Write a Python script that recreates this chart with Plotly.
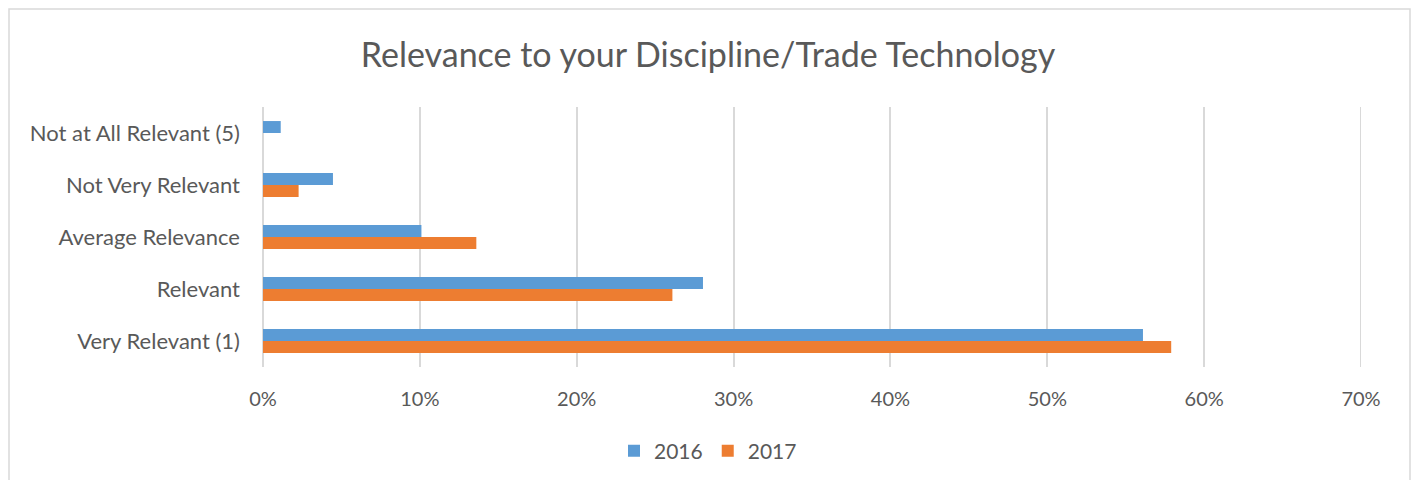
import plotly.graph_objects as go

categories = ["Not at All Relevant (5)", "Not Very Relevant", "Average Relevance", "Relevant", "Very Relevant (1)"]
values_2016 = [0.0113, 0.0446, 0.101, 0.2805, 0.561]
values_2017 = [0.0, 0.0227, 0.136, 0.261, 0.579]
x_ticks = [0, 0.1, 0.2, 0.3, 0.4, 0.5, 0.6, 0.7]
x_tick_labels = ["0%", "10%", "20%", "30%", "40%", "50%", "60%", "70%"]

W, H = 1416, 480
L, R, T, B = 263, 1361, 107, 367
FONT = "Lato"

fig = go.Figure()
fig.add_trace(go.Bar(y=categories, x=values_2016, name="2016", orientation="h",
                     marker=dict(color="#5B9BD5", line=dict(width=0))))
fig.add_trace(go.Bar(y=categories, x=values_2017, name="2017", orientation="h",
                     marker=dict(color="#ED7D31", line=dict(width=0))))

pw, ph = R - L, B - T
def px(x): return (x - L) / pw
def py(y): return (B - y) / ph

fig.update_layout(
    width=W, height=H,
    margin=dict(l=L, r=W - R, t=T, b=H - B),
    paper_bgcolor="white", plot_bgcolor="white",
    barmode="group", bargap=0.54, bargroupgap=0,
    font=dict(family=FONT, color="#595959"),
    title=dict(text="Relevance to your Discipline/Trade Technology",
               x=0.5, xref="container", xanchor="center",
               y=1 - 55 / H, yref="container", yanchor="middle",
               font=dict(size=34, color="#595959", family=FONT)),
    xaxis=dict(range=[0, 0.7], tickvals=x_ticks, ticktext=x_tick_labels,
               showgrid=True, gridcolor="#D9D9D9", gridwidth=2,
               zeroline=False, showline=False,
               tickfont=dict(size=20, color="#595959"), ticks="",
               ticklabelstandoff=18),
    yaxis=dict(autorange="reversed", showgrid=False, zeroline=False,
               showline=False, ticks="",
               tickfont=dict(size=22, color="#595959"),
               ticklabelstandoff=22),
    legend=dict(orientation="h", xref="container", yref="container",
                x=0.5, xanchor="center", y=1 - 451 / H, yanchor="middle",
                font=dict(size=21, color="#595959"), itemwidth=30,
                traceorder="normal"),
    shapes=[
        dict(type="line", xref="paper", yref="paper", x0=0, x1=0, y0=0, y1=1,
             line=dict(color="#D9D9D9", width=2), layer="below"),
        dict(type="line", xref="x", yref="paper", x0=0.7, x1=0.7, y0=0, y1=1,
             line=dict(color="#D9D9D9", width=2), layer="below"),
        dict(type="rect", xref="paper", yref="paper",
             x0=px(9), x1=px(1410), y0=py(9), y1=py(490),
             line=dict(color="#D9D9D9", width=1.5), fillcolor="rgba(0,0,0,0)"),
    ],
)

fig.write_html("out.html", config={"displayModeBar": False},
               post_script="document.body.style.margin='0';document.body.style.padding='0';")
